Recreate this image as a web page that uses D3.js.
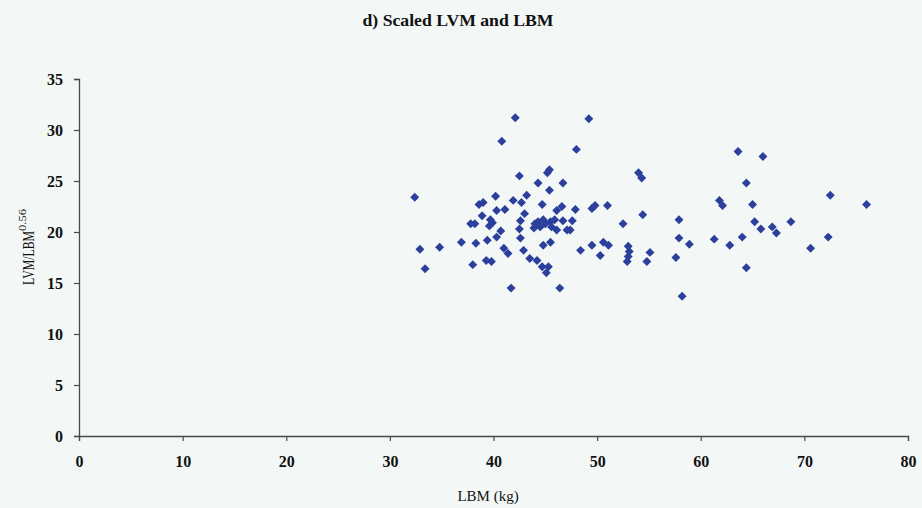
<!DOCTYPE html>
<html><head><meta charset="utf-8">
<script src="https://cdn.jsdelivr.net/npm/d3@7/dist/d3.min.js"></script>
<style>
html,body{margin:0;padding:0;background:#f3f8f7;}
svg{display:block;}
text{font-family:"Liberation Serif","Times New Roman",serif;fill:#111;}
</style></head><body>
<svg id="chart" width="922" height="508"></svg>
<script>
const title = "d) Scaled LVM and LBM";
const xLabel = "LBM (kg)";
const yLabelMain = "LVM/LBM";
const yLabelSup = "0.56";
const xTicks = [0,10,20,30,40,50,60,70,80];
const yTicks = [0,5,10,15,20,25,30,35];
const lbm = [32.4,32.9,33.4,34.8,36.9,37.8,38.2,38.0,38.3,38.6,39.0,38.9,39.3,39.8,39.4,39.7,39.6,40.3,40.2,40.3,41.1,40.7,41.0,41.4,40.8,42.1,41.9,42.7,43.2,42.5,43.0,42.6,42.5,42.6,42.9,41.7,43.5,44.2,44.7,45.3,45.1,44.3,44.7,44.3,44.8,45.5,43.9,44.5,44.8,45.5,45.4,45.4,45.2,46.7,46.6,46.1,47.9,46.7,47.6,46.1,47.1,47.4,46.4,48.0,49.2,48.4,49.5,49.8,51.0,49.5,50.6,51.1,50.3,52.5,53.0,53.1,53.0,52.9,54.0,54.3,54.4,55.1,54.8,57.9,57.9,58.9,57.6,58.2,61.3,61.8,62.1,62.8,63.6,64.0,64.4,64.4,65.0,65.2,65.8,66.0,66.9,67.3,68.7,70.6,72.3,72.5,76.0,39.9,45.0,45.6,44.0,45.9];
const scaledLvm = [23.4,18.3,16.4,18.5,19.0,20.8,20.8,16.8,18.9,22.7,22.9,21.6,17.2,17.1,19.2,21.2,20.6,19.5,23.5,22.1,22.2,20.1,18.4,17.9,28.9,31.2,23.1,22.9,23.6,25.5,21.8,21.1,20.3,19.4,18.2,14.5,17.4,17.2,16.6,16.6,16.0,24.8,22.7,21.0,21.2,21.0,20.4,20.5,18.7,19.0,24.1,26.1,25.8,24.8,22.5,22.1,22.2,21.1,21.1,20.2,20.2,20.2,14.5,28.1,31.1,18.2,22.3,22.6,22.6,18.7,19.0,18.7,17.7,20.8,18.6,18.1,17.6,17.1,25.8,25.3,21.7,18.0,17.1,21.2,19.4,18.8,17.5,13.7,19.3,23.1,22.6,18.7,27.9,19.5,24.8,16.5,22.7,21.0,20.3,27.4,20.5,19.9,21.0,18.4,19.5,23.6,22.7,20.9,20.8,20.5,20.8,21.2];

const svg = d3.select("#chart");
const x = d3.scaleLinear().domain([0,80]).range([79,908]);
const y = d3.scaleLinear().domain([0,35]).range([436,79]);

svg.append("text").attr("x",458).attr("y",26).attr("text-anchor","middle")
  .attr("font-size",16).attr("font-weight","bold")
  .attr("textLength",191).attr("lengthAdjust","spacingAndGlyphs").text(title);

const axisColor = "#4a4a4a";
const gx = svg.append("g").attr("transform","translate(0,436)")
  .call(d3.axisBottom(x).tickValues(xTicks).tickSize(5).tickPadding(15).tickFormat(d3.format("d")));
const gy = svg.append("g").attr("transform","translate(79,0)")
  .call(d3.axisLeft(y).tickValues(yTicks).tickSize(5).tickPadding(11).tickFormat(d3.format("d")));
[gx,gy].forEach(g=>{
  g.select(".domain").attr("stroke",axisColor).attr("stroke-width",1.3);
  g.selectAll(".tick line").attr("stroke",axisColor).attr("stroke-width",1.2);
  g.selectAll(".tick text").attr("font-family","Liberation Serif, serif").attr("font-size",16)
    .attr("font-weight","bold").attr("fill","#111");
});

svg.append("text").attr("x",488).attr("y",501).attr("text-anchor","middle")
  .attr("font-size",15).text(xLabel);

const yl = svg.append("text").attr("transform","translate(34,285) rotate(-90)")
  .attr("text-anchor","start").attr("font-size",17);
yl.append("tspan").attr("textLength",54).attr("lengthAdjust","spacingAndGlyphs").text(yLabelMain);
yl.append("tspan").attr("dy",-8).attr("font-size",11)
  .attr("textLength",22).attr("lengthAdjust","spacingAndGlyphs").text(yLabelSup);

const pts = lbm.map((v,i)=>({x:v,y:scaledLvm[i]}));
svg.append("g").selectAll("path").data(pts).join("path")
  .attr("transform",d=>`translate(${x(d.x)},${y(d.y)}) rotate(45)`)
  .attr("d",d3.symbol(d3.symbolSquare, 40))
  .attr("fill","#2c3f9c");
</script>
</body></html>
